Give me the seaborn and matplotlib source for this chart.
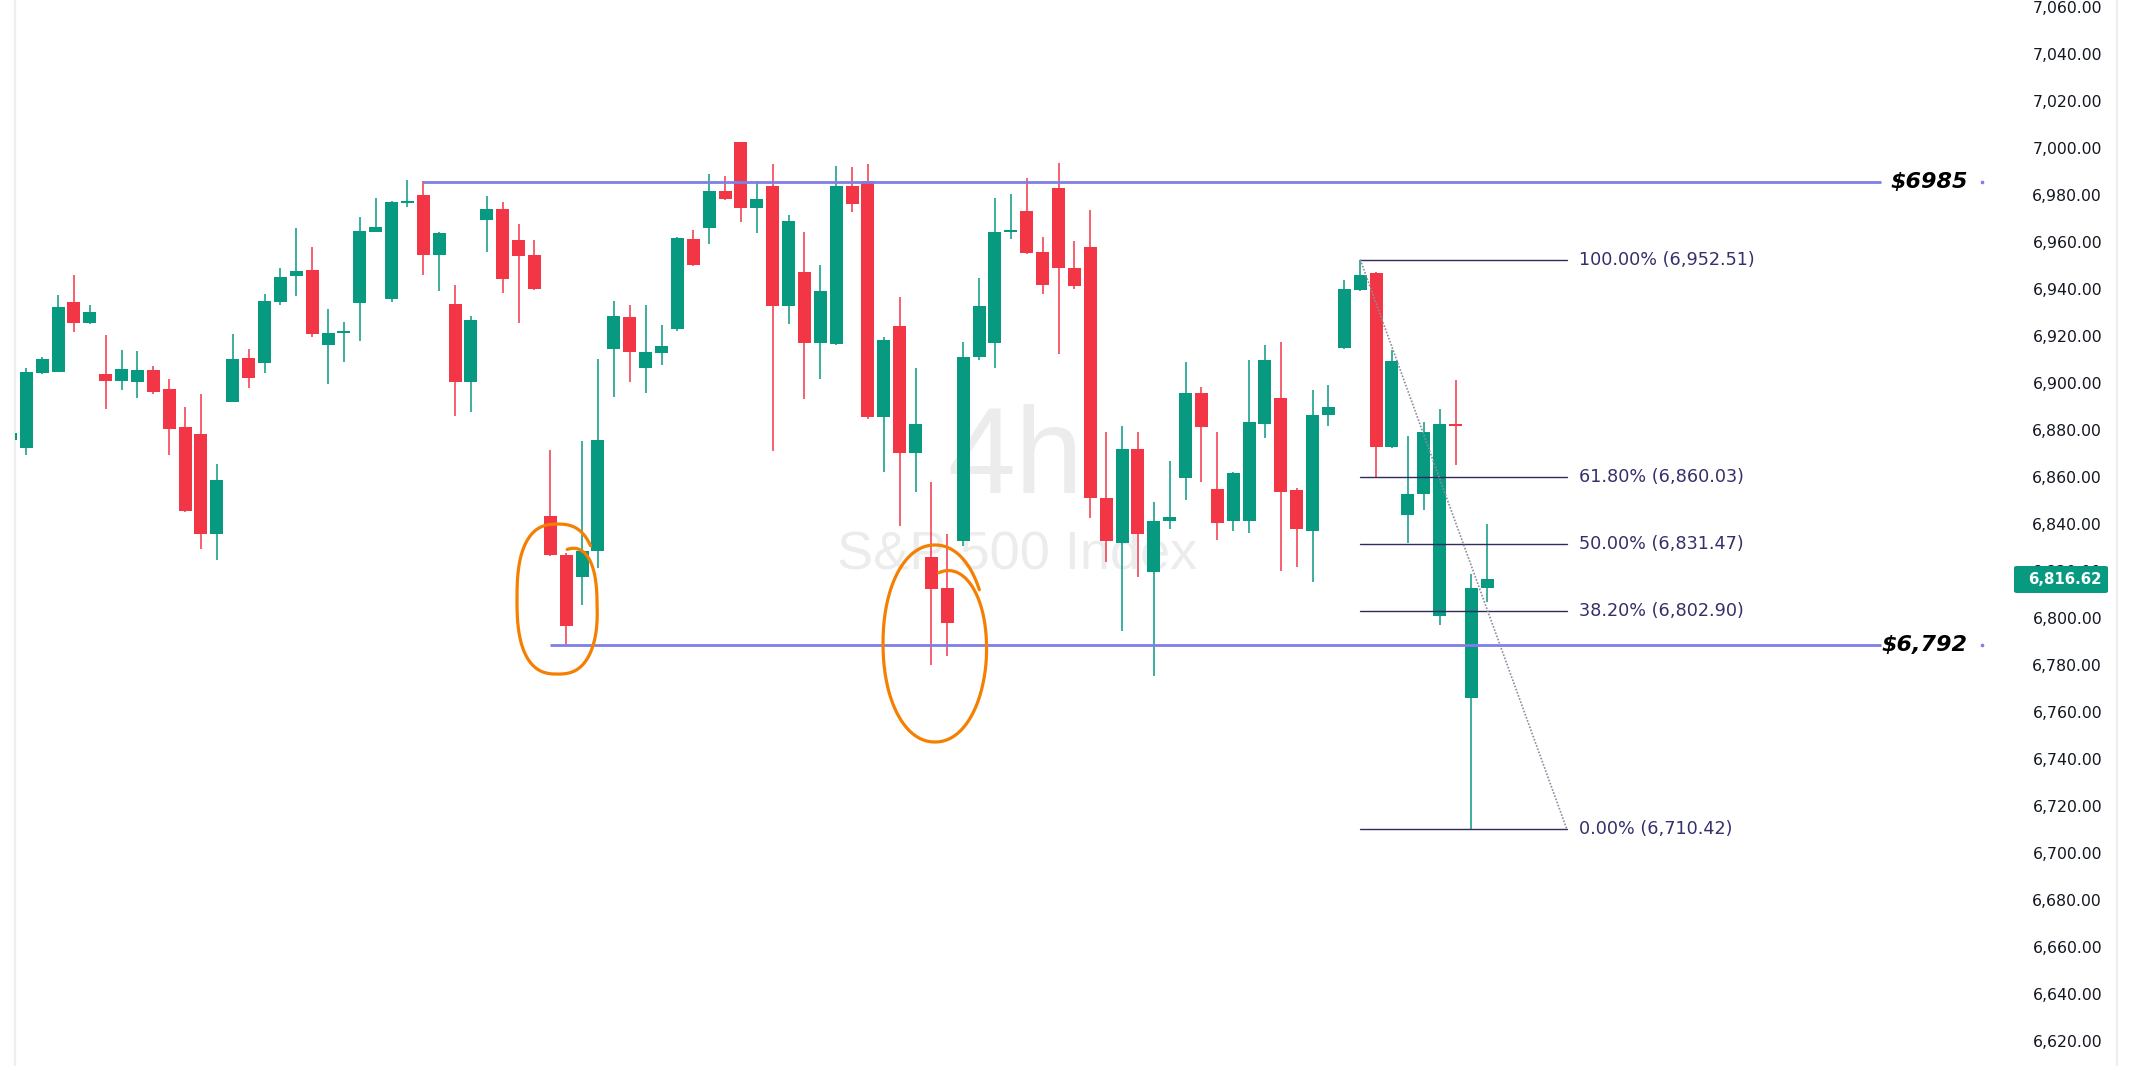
import numpy as np
import pandas as pd
import matplotlib
matplotlib.use("Agg")
import matplotlib.pyplot as plt
import seaborn as sns
from matplotlib.patches import FancyBboxPatch
from matplotlib.lines import Line2D

# ---------------- data (4h S&P 500 candles) ----------------
first_index = -1
opens = [6875.9, 6872.3, 6904.3, 6904.7, 6934.5, 6925.5, 6903.8, 6900.9, 6900.4, 6905.5,
         6897.5, 6881.3, 6878.3, 6835.9, 6891.9, 6910.6, 6908.5, 6934.5, 6945.5, 6948.1,
         6916.2, 6921.3, 6934.1, 6964.4, 6935.7, 6976.5, 6980.0, 6954.6, 6933.5, 6900.4,
         6969.5, 6974.0, 6960.8, 6954.4, 6843.6, 6827.0, 6817.3, 6828.4, 6914.5, 6927.9,
         6906.4, 6912.8, 6923.0, 6961.3, 6966.0, 6981.5, 7002.4, 6974.5, 6983.7, 6932.8,
         6947.4, 6916.9, 6916.5, 6983.7, 6985.8, 6885.5, 6924.4, 6870.1, 6825.9, 6812.7,
         6833.0, 6910.9, 6916.9, 6964.3, 6973.1, 6955.6, 6982.8, 6948.8, 6957.7, 6851.2,
         6832.1, 6872.1, 6819.4, 6841.1, 6859.4, 6895.9, 6854.9, 6841.1, 6841.4, 6882.7,
         6893.8, 6854.5, 6837.2, 6886.3, 6914.8, 6939.6, 6946.6, 6872.7, 6843.7, 6852.7,
         6800.7, 6882.6, 6766.1, 6812.6]
highs = [6879.0, 6906.4, 6911.1, 6937.4, 6945.9, 6933.2, 6920.4, 6914.0, 6913.6, 6907.2,
         6901.7, 6889.8, 6895.3, 6865.6, 6920.8, 6914.5, 6937.9, 6948.9, 6965.9, 6957.8,
         6931.5, 6925.9, 6970.5, 6978.6, 6977.4, 6986.4, 6985.8, 6964.3, 6941.5, 6928.4,
         6979.5, 6977.0, 6967.6, 6960.8, 6871.3, 6827.5, 6875.2, 6910.4, 6934.8, 6933.0,
         6933.0, 6924.5, 6962.0, 6965.0, 6988.9, 6987.9, 7002.6, 6985.8, 6993.1, 6971.4,
         6964.1, 6950.1, 6992.3, 6991.8, 6993.1, 6919.7, 6936.5, 6906.5, 6857.9, 6835.7,
         6917.6, 6944.8, 6978.6, 6980.2, 6987.1, 6962.0, 6993.5, 6960.3, 6973.5, 6879.3,
         6881.9, 6879.3, 6849.4, 6866.9, 6909.1, 6898.5, 6879.3, 6862.0, 6909.9, 6916.0,
         6917.3, 6855.4, 6897.2, 6899.3, 6943.7, 6952.5, 6947.1, 6914.0, 6877.6, 6883.3,
         6889.1, 6901.3, 6818.8, 6840.2]
lows = [6874.5, 6869.5, 6904.0, 6904.5, 6921.7, 6925.3, 6888.9, 6897.0, 6893.6, 6895.3,
        6869.5, 6845.3, 6829.5, 6824.9, 6891.9, 6897.9, 6904.3, 6933.2, 6937.0, 6919.6,
        6899.6, 6909.1, 6917.9, 6964.2, 6934.5, 6975.0, 6946.0, 6939.2, 6885.9, 6887.6,
        6955.7, 6938.4, 6925.6, 6939.5, 6826.5, 6789.2, 6805.4, 6821.2, 6894.0, 6900.4,
        6895.8, 6907.6, 6922.0, 6949.8, 6959.2, 6978.0, 6968.5, 6963.6, 6870.9, 6925.1,
        6893.4, 6901.6, 6916.3, 6972.7, 6884.5, 6862.3, 6839.1, 6853.5, 6780.2, 6784.0,
        6830.8, 6909.8, 6906.3, 6961.2, 6955.0, 6937.7, 6912.2, 6940.0, 6842.7, 6824.0,
        6794.6, 6817.6, 6775.4, 6838.1, 6850.1, 6857.7, 6833.4, 6837.2, 6836.4, 6876.5,
        6820.2, 6821.8, 6815.5, 6881.5, 6914.6, 6939.1, 6859.8, 6872.3, 6832.0, 6845.8,
        6797.2, 6865.0, 6710.4, 6806.9]
closes = [6878.7, 6904.7, 6910.2, 6932.3, 6925.5, 6930.2, 6900.9, 6905.9, 6905.5, 6896.2,
          6880.6, 6845.7, 6835.9, 6858.7, 6910.2, 6902.1, 6934.9, 6945.1, 6947.6, 6920.8,
          6921.3, 6921.8, 6964.6, 6966.4, 6977.0, 6977.5, 6954.6, 6963.8, 6900.4, 6926.7,
          6974.0, 6944.4, 6954.1, 6939.9, 6826.7, 6796.8, 6828.7, 6875.9, 6928.4, 6913.1,
          6913.0, 6915.7, 6961.6, 6950.2, 6981.5, 6978.3, 6974.5, 6978.1, 6932.8, 6969.1,
          6916.9, 6939.0, 6983.7, 6976.2, 6885.5, 6918.1, 6870.1, 6882.7, 6812.5, 6798.0,
          6911.2, 6932.6, 6964.1, 6964.9, 6955.3, 6941.7, 6948.9, 6941.2, 6850.9, 6832.6,
          6872.1, 6835.9, 6841.2, 6843.0, 6895.9, 6881.1, 6840.6, 6861.8, 6883.2, 6909.6,
          6853.8, 6837.7, 6886.4, 6889.9, 6939.8, 6946.1, 6872.6, 6909.2, 6852.9, 6879.0,
          6882.4, 6881.8, 6812.9, 6816.6]

price_ticks = list(range(6620, 7061, 20))
last_price = 6816.62

resistance_level = 6985.3
resistance_label = "$6985"
resistance_start = 25
support_level = 6788.5
support_label = "$6,792"
support_start = 33

fib_high = 6952.51
fib_low = 6710.42
fib_ratios = [1.0, 0.618, 0.5, 0.382, 0.0]
fib_start = 84
fib_end = 97

watermark_big = "4h"
watermark_small = "S&P 500 Index"

# ---------------- style ----------------
GREEN = "#089981"
RED = "#F23645"
RAY = "#7f7fe6"
FIB = "#2f2b5e"
ORANGE = "#f57f00"
TEXT = "#131722"

sns.set_theme(style="white")
plt.rcParams["font.family"] = ["DejaVu Sans"]

W, H = 2132, 1066
fig = plt.figure(figsize=(W / 100, H / 100), dpi=100)
fig.patch.set_facecolor("white")
ax_left_px, ax_right_px = 15, 2010
ax = fig.add_axes([ax_left_px / W, 0, (ax_right_px - ax_left_px) / W, 1])
ax.set_facecolor("white")

# scale mapping (candle spacing 15.88 px, first full candle at 26.3 px)
x0_px, step_px = 26.3, 15.88
ax.set_xlim((ax_left_px - x0_px) / step_px, (ax_right_px - x0_px) / step_px)
ax.set_ylim(6609.5, 7062.9)

df = pd.DataFrame({"open": opens, "high": highs, "low": lows, "close": closes})
df["x"] = np.arange(len(df)) + first_index
df["up"] = df["close"] >= df["open"]
colors = np.where(df["up"], GREEN, RED)

# watermark
ax.text(62.3, 6853.2, watermark_big, fontsize=88, family="Liberation Sans",
        color="#ececec", ha="center", va="baseline", zorder=0.5)
ax.text(62.4, 6821.3, watermark_small, fontsize=39, family="Liberation Sans",
        color="#ececec", ha="center", va="baseline", zorder=0.5)

# candles
ax.vlines(df["x"], df["low"], df["high"], colors=colors, lw=1.1, zorder=2)
bottoms = np.minimum(df["open"], df["close"])
heights = np.maximum((df["close"] - df["open"]).abs(), 0.8)
ax.bar(df["x"], heights, bottom=bottoms, width=0.82, color=colors, lw=0, zorder=3)

# horizontal rays with labels
ray_end = 116.8
label_x = 122.25
dot_x = 123.15
for lvl, lab, start in [(resistance_level, resistance_label, resistance_start),
                        (support_level, support_label, support_start)]:
    ax.plot([start, ray_end], [lvl, lvl], color=RAY, lw=2, zorder=5, solid_capstyle="butt")
    ax.text(label_x, lvl, lab, ha="right", va="center", fontsize=16, fontweight="bold",
            fontstyle="italic", color="black", zorder=6)
    ax.plot([dot_x], [lvl], marker="o", ms=1.6, color=RAY, zorder=6)

# fibonacci retracement
fib_label_x = 97.8
for r in fib_ratios:
    lvl = fib_low + r * (fib_high - fib_low)
    ax.plot([fib_start, fib_end], [lvl, lvl], color=FIB, lw=1.0, zorder=4)
    ax.text(fib_label_x, lvl, f"{r * 100:.2f}% ({lvl:,.2f})", ha="left", va="center",
            fontsize=12.7, color="#34306a", zorder=6)
ax.plot([fib_start, fib_end], [fib_high, fib_low], color="#8c8ca0", lw=1.2,
        linestyle=(0, (1, 1)), zorder=4)


# hand-drawn orange loops
def hand_loop(cx, cy, a, b, n, start_deg, sweep_deg, start_scale):
    t = np.deg2rad(np.linspace(start_deg, start_deg - sweep_deg, 400))
    grow = np.clip((np.deg2rad(start_deg) - t) / np.deg2rad(100), 0, 1)
    s = start_scale + (1 - start_scale) * np.sin(grow * np.pi / 2)
    ct, st = np.cos(t), np.sin(t)
    xx = cx + a * s * np.sign(ct) * np.abs(ct) ** (2 / n)
    yy = cy + b * s * np.sign(st) * np.abs(st) ** (2 / n)
    ax.plot(xx, yy, color=ORANGE, lw=2.3, zorder=7, solid_capstyle="round")


hand_loop(33.45, 6808.1, 2.55, 31.9, 2.6, 75, 395, 0.68)
hand_loop(57.22, 6789.2, 3.27, 41.9, 2.1, 85, 413, 0.72)

# axis styling
ax.set_xticks([])
ax.set_yticks(price_ticks)
ax.set_yticklabels([f"{v:,.2f}" for v in price_ticks])
ax.yaxis.tick_right()
pad_pt = (2102 - ax_right_px) * 72 / 100
ax.tick_params(axis="y", length=0, pad=pad_pt, labelsize=11.3, labelcolor=TEXT)
for lab in ax.get_yticklabels():
    lab.set_horizontalalignment("right")
for side in ["top", "right", "bottom"]:
    ax.spines[side].set_visible(False)
ax.spines["left"].set_color("#eeeeee")
ax.spines["left"].set_linewidth(1.6)
ax.grid(False)

# right border of the price scale
fig.add_artist(Line2D([2117 / W, 2117 / W], [0, 1], color="#eeeeee", lw=1.6,
                      transform=fig.transFigure))

# last price tag
tag = FancyBboxPatch((2014 / W, 1 - 593 / H), 94 / W, 27 / H,
                     boxstyle="round,pad=0,rounding_size=0.0015",
                     transform=fig.transFigure, fc=GREEN, ec="none", zorder=10)
fig.add_artist(tag)
fig.text(2102 / W, 1 - 579.5 / H, f"{last_price:,.2f}", ha="right", va="center",
         color="white", fontsize=10.8, fontweight="bold", zorder=11)

fig.savefig("out.png", dpi=100, facecolor="white")
